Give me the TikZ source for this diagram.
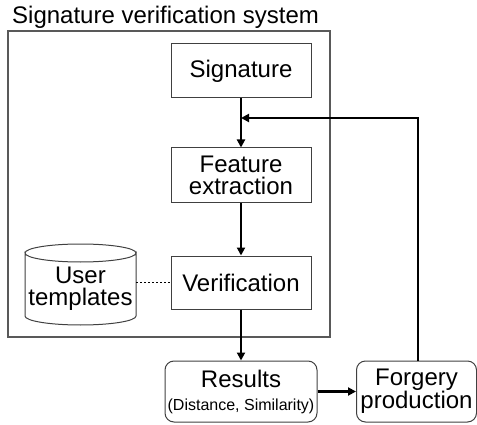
\documentclass[tikz,border=0pt]{standalone}
\usepackage{fontspec}
\setmainfont{Liberation Sans}
\usetikzlibrary{arrows.meta}
\begin{document}
\begin{tikzpicture}[x=1pt,y=-1pt,
  box/.style={draw=black!75,line width=1pt,align=center,inner sep=0pt,
    font=\fontsize{24}{22}\selectfont},
  rbox/.style={box,rounded corners=9pt},
  arr/.style={line width=2.5pt,-{Triangle[length=8pt,width=8pt]}},
  frame/.style={draw=black!65,line width=1.3pt},
  cyl/.style={draw=black!75,line width=1pt}]
\useasboundingbox (0,0) rectangle (477,425);
\node[anchor=base west,inner sep=0pt,font=\fontsize{24}{24}\selectfont] (title) at (12,24) {Signature verification system};
\draw[frame] (8,31) rectangle (330,337);
\node[box,minimum width=140pt,minimum height=54pt] (sig) at (241,71) {Signature};
\node[box,minimum width=140pt,minimum height=55pt] (fe) at (241,175.5) {Feature\\extraction};
\node[box,minimum width=140pt,minimum height=53pt] (ver) at (241,282.5) {Verification};
\node[rbox,minimum width=152pt,minimum height=61pt] (res) at (241,391.5)
  {Results\\[1pt]{\fontsize{16}{16}\selectfont(Distance, Similarity)}};
\node[rbox,minimum width=120pt,minimum height=61pt,font=\fontsize{24}{23}\selectfont] (fp) at (416.5,391.5) {Forgery\\production};
% cylinder outline
\draw[cyl,fill=white]
  (25,253) -- (25,316) arc[start angle=180,end angle=360,x radius=55.5pt,y radius=9pt]
  -- (136,253) arc[start angle=0,end angle=-180,x radius=55.5pt,y radius=9pt] -- cycle;
\draw[cyl]
  (25,253) arc[start angle=180,end angle=0,x radius=55.5pt,y radius=9pt];
\node[align=center,inner sep=0pt,minimum width=111pt,minimum height=60pt,
  font=\fontsize{24}{22}\selectfont] (ut) at (80.5,289) {User\\templates};
% connectors
\draw[arr] (sig) -- (fe);
\draw[arr] (fe) -- (ver);
\draw[arr] (ver) -- (res);
\draw[arr] (res) -- (fp);
\coordinate (j) at (241,118);
\draw[arr] ([xshift=1.5pt]fp.north) |- (j);
\draw[line width=1.6pt,dash pattern=on 1.6pt off 2.4pt] (ver.west -| ut.east) -- (ver.west);
\end{tikzpicture}
\end{document}
